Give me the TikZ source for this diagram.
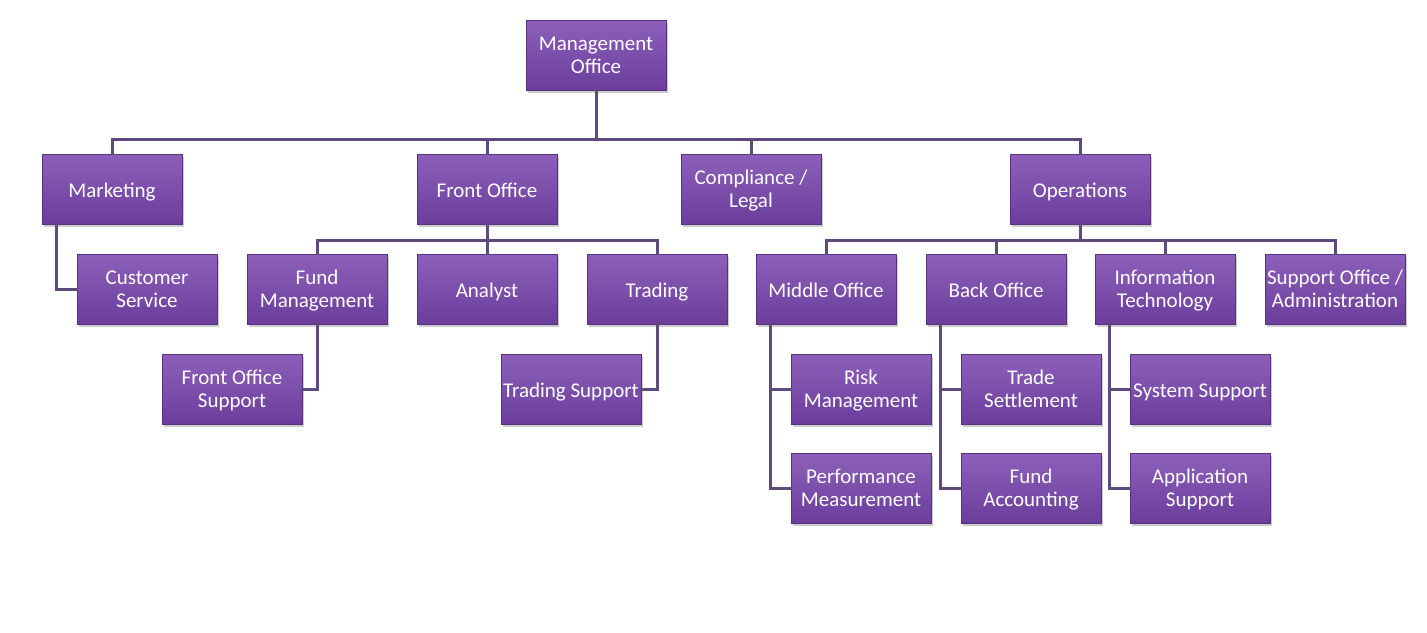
\documentclass[tikz,border=0pt]{standalone}
\usepackage{fontspec}
\setmainfont{Carlito}
\usetikzlibrary{shadows}
\definecolor{boxtop}{HTML}{8C60BA}
\definecolor{boxbot}{HTML}{6C3D9C}
\definecolor{boxedge}{HTML}{56327F}
\definecolor{linecol}{HTML}{5F4A80}
\newcommand\twol[2]{\vbox{\kern4pt\halign{\hfil##\hfil\cr\strut #1\cr\strut #2\cr}}}
\tikzset{
  orgbox/.style={rectangle, minimum width=140pt, minimum height=70pt, inner sep=1pt,
    top color=boxtop, bottom color=boxbot, draw=boxedge, line width=0.6pt,
    drop shadow={shadow xshift=2pt, shadow yshift=-2.5pt, opacity=0.4},
    text=white, align=center, font=\fontsize{21}{23}\selectfont,
    execute at begin node={\rule{0pt}{24pt}}, execute at end node=\strut}
}
\tikzset{conn/.style={draw=linecol, line width=3pt, line cap=rect}}
\begin{document}
\begin{tikzpicture}[x=1pt,y=-1pt]
\useasboundingbox (0,0) rectangle (1427,632);
\node[orgbox] (mgmt) at (596,55) {\twol{Management}{Office}};
\node[orgbox] (mkt) at (112,189) {Marketing};
\node[orgbox] (fo) at (487,189) {Front Office};
\node[orgbox] (comp) at (751,189) {\twol{Compliance /}{Legal}};
\node[orgbox] (ops) at (1080,189) {Operations};
\node[orgbox] (cs) at (147,289) {\twol{Customer}{Service}};
\node[orgbox] (fm) at (317,289) {\twol{Fund}{Management}};
\node[orgbox] (an) at (487,289) {Analyst};
\node[orgbox] (tr) at (657,289) {Trading};
\node[orgbox] (fos) at (232,389) {\twol{Front Office}{Support}};
\node[orgbox] (ts) at (571,389) {Trading Support};
\node[orgbox] (mo) at (826,289) {Middle Office};
\node[orgbox] (bo) at (996,289) {Back Office};
\node[orgbox] (it) at (1165,289) {\twol{Information}{Technology}};
\node[orgbox] (so) at (1335,289) {\twol{Support Office /}{Administration}};
\node[orgbox] (rm) at (861,389) {\twol{Risk}{Management}};
\node[orgbox] (pm) at (861,488) {\twol{Performance}{Measurement}};
\node[orgbox] (tse) at (1031,389) {\twol{Trade}{Settlement}};
\node[orgbox] (fa) at (1031,488) {\twol{Fund}{Accounting}};
\node[orgbox] (ss) at (1200,389) {System Support};
\node[orgbox] (as) at (1200,488) {\twol{Application}{Support}};

% level 1
\path[conn] (mgmt.south) -- ++(0,49) -| (mkt.north);
\path[conn] (mgmt.south) -- ++(0,49) -| (ops.north);
\path[conn] (mgmt.south) -- ++(0,49) -| (fo.north);
\path[conn] (mgmt.south) -- ++(0,49) -| (comp.north);
% marketing
\path[conn] ([xshift=15pt]mkt.south west) |- (cs.west);
% front office
\path[conn] (fo.south) -- ++(0,16) -| (fm.north);
\path[conn] (fo.south) -- ++(0,16) -| (tr.north);
\path[conn] (fo.south) -- (an.north);
\path[conn] (fm.south) |- (fos.east);
\path[conn] (tr.south) |- (ts.east);
% operations
\path[conn] (ops.south) -- ++(0,16) -| (mo.north);
\path[conn] (ops.south) -- ++(0,16) -| (bo.north);
\path[conn] (ops.south) -- ++(0,16) -| (it.north);
\path[conn] (ops.south) -- ++(0,16) -| (so.north);
\path[conn] ([xshift=15pt]mo.south west) |- (rm.west);
\path[conn] ([xshift=15pt]mo.south west) |- (pm.west);
\path[conn] ([xshift=15pt]bo.south west) |- (tse.west);
\path[conn] ([xshift=15pt]bo.south west) |- (fa.west);
\path[conn] ([xshift=15pt]it.south west) |- (ss.west);
\path[conn] ([xshift=15pt]it.south west) |- (as.west);
\end{tikzpicture}
\end{document}
